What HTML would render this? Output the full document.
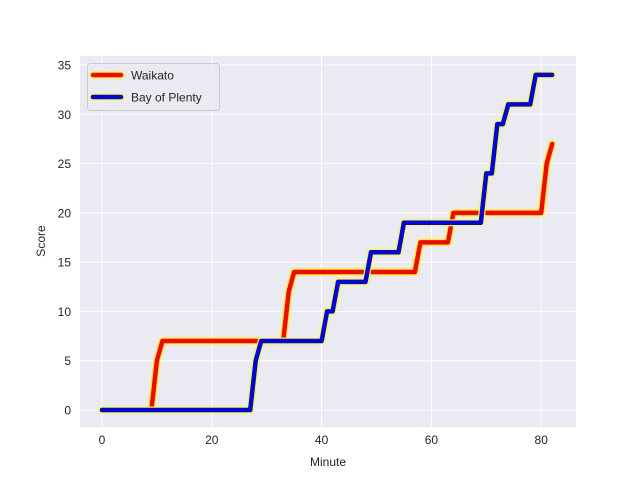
<!DOCTYPE html>
<html><head><meta charset="utf-8"><style>
body{margin:0;background:#fff}
svg{font-family:"Liberation Sans",Arial,sans-serif}
</style></head><body>
<svg id="chart" width="640" height="480">
<rect x="80" y="56" width="496" height="371" fill="#eaeaf2"/>
<g id="grid"></g><g id="ticks"></g><g id="lines"></g>
<text x="328" y="466" text-anchor="middle" font-size="12" fill="#262626">Minute</text>
<text x="45" y="241" text-anchor="middle" font-size="12" fill="#262626" transform="rotate(-90 45 241)">Score</text>
<g>
<rect x="87.5" y="63.5" width="132" height="47" rx="3" fill="#eaeaf2" fill-opacity="0.8" stroke="#cccccc"/>
<g>
<line x1="93" y1="75" x2="121" y2="75" stroke="yellow" stroke-width="7" stroke-linecap="round"/>
<line x1="93" y1="75" x2="121" y2="75" stroke="red" stroke-width="4.5" stroke-linecap="round"/>
<text x="131" y="79.5" font-size="12" fill="#262626">Waikato</text></g>
<g>
<line x1="93" y1="97" x2="121" y2="97" stroke="yellow" stroke-width="7" stroke-linecap="round"/>
<line x1="93" y1="97" x2="121" y2="97" stroke="blue" stroke-width="4.5" stroke-linecap="round"/>
<text x="131" y="101.5" font-size="12" fill="#262626">Bay of Plenty</text></g>
</g>
</svg>
<script>
const waikatoMin=[0,9,10,11,33,34,35,57,58,63,64,80,81,82];
const waikatoScore=[0,0,5,7,7,12,14,14,17,17,20,20,25,27];
const bopMin=[0,27,28,29,40,41,42,43,48,49,54,55,69,70,71,72,73,74,78,79,82];
const bopScore=[0,0,5,7,7,10,10,13,13,16,16,19,19,24,24,29,29,31,31,34,34];
const xTicks=[0,20,40,60,80];
const yTicks=[0,5,10,15,20,25,30,35];
const NS="http://www.w3.org/2000/svg";
const xs=m=>102+m*5.49;
const ys=v=>410-v*9.857;
function mk(t,a,p){const e=document.createElementNS(NS,t);for(const k in a)e.setAttribute(k,a[k]);p.appendChild(e);return e;}
const grid=document.getElementById('grid'),ticks=document.getElementById('ticks'),lines=document.getElementById('lines');
xTicks.forEach(t=>{
 const l=mk('line',{x1:xs(t),x2:xs(t),y1:56,y2:427,stroke:'#fff','stroke-width':1},grid);
 
 
 const tx=mk('text',{x:xs(t),y:444,'text-anchor':'middle','font-size':12,fill:'#262626'},ticks);
 tx.textContent=t;
 
 
});
yTicks.forEach(t=>{
 const l=mk('line',{x1:80,x2:576,y1:ys(t),y2:ys(t),stroke:'#fff','stroke-width':1},grid);
 
 
 const tx=mk('text',{x:71,y:ys(t)+4.5,'text-anchor':'end','font-size':12,fill:'#262626'},ticks);
 tx.textContent=t;
 
 
});
function series(m,s,color,name){
 const pts=m.map((v,i)=>xs(v).toFixed(1)+','+ys(s[i]).toFixed(1)).join(' ');
 const g=mk('g',{},lines);
 
 
 mk('polyline',{points:pts,fill:'none',stroke:'yellow','stroke-width':7,'stroke-linejoin':'round','stroke-linecap':'round'},g);
 mk('polyline',{points:pts,fill:'none',stroke:color,'stroke-width':4.5,'stroke-linejoin':'round','stroke-linecap':'round'},g);
}
series(waikatoMin,waikatoScore,'red','waikato-line');
series(bopMin,bopScore,'blue','bay-of-plenty-line');
</script>
</body></html>
